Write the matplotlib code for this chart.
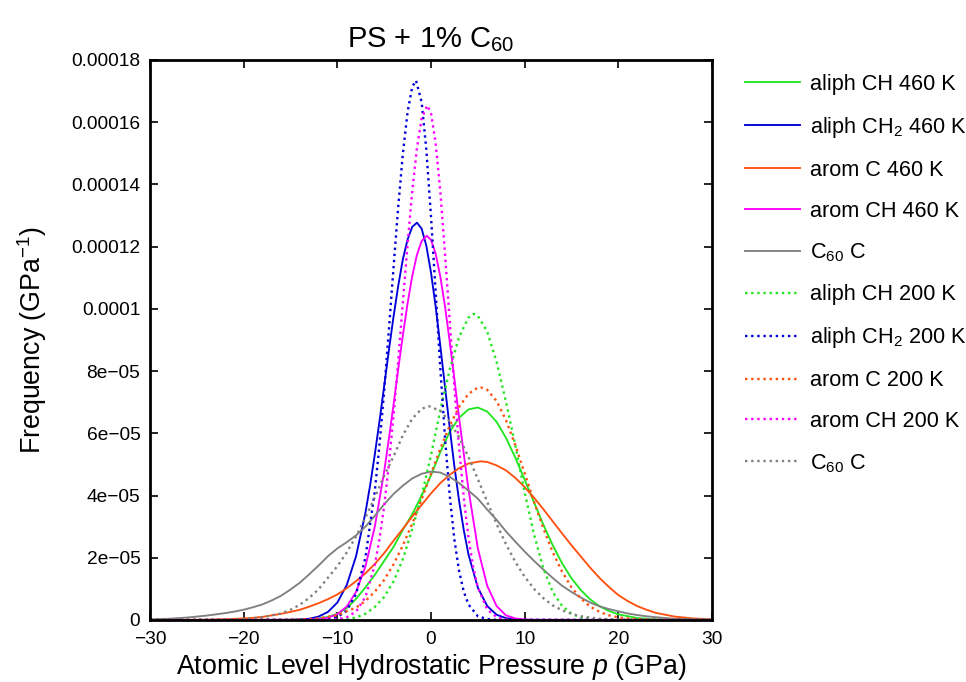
import matplotlib
matplotlib.use("Agg")
import matplotlib.pyplot as plt
import numpy as np

plt.rcParams['font.family'] = ['Liberation Sans', 'DejaVu Sans']
plt.rcParams['mathtext.fontset'] = 'custom'
plt.rcParams['mathtext.rm'] = 'Liberation Sans'
plt.rcParams['mathtext.it'] = 'Liberation Sans:italic'
plt.rcParams['axes.unicode_minus'] = True

UNIT = 1e-5  # values below are in units of 1e-5 GPa^-1

# ---- 460 K (solid) ----
x_aliphCH_460 = [-30, -16, -14, -12, -11, -10, -9, -8, -7, -6, -5, -4, -3, -2, -1, 0, 1, 2, 3, 4, 5, 6, 7, 8, 9,
                 10, 11, 12, 13, 14, 15, 16, 17, 18, 19, 20, 22, 24, 26, 30]
y_aliphCH_460 = [0, .005, .02, .05, .1, .2, .38, .68, 1.05, 1.45, 1.9, 2.35, 2.9, 3.4, 4.0, 4.65, 5.4, 6.05, 6.5,
                 6.77, 6.83, 6.7, 6.37, 5.86, 5.22, 4.51, 3.78, 3.06, 2.4, 1.82, 1.34, .96, .66, .44, .29, .18,
                 .065, .02, .005, 0]

x_aliphCH2_460 = [-30, -15, -14, -13, -12, -11, -10, -9, -8, -7, -6.5, -6, -5.5, -5, -4.5, -4, -3.5, -3, -2.5, -2,
                  -1.5, -1, -0.5, 0, 0.5, 1, 1.5, 2, 2.5, 3, 3.5, 4, 5, 6, 7, 8, 9, 10, 30]
y_aliphCH2_460 = [0, .005, .015, .04, .11, .26, .56, 1.12, 2.05, 3.45, 4.33, 5.32, 6.39, 7.52, 8.66, 9.75, 10.74,
                  11.6, 12.23, 12.64, 12.77, 12.58, 12.03, 11.17, 10.07, 8.8, 7.48, 6.17, 4.93, 3.83, 2.89, 2.11,
                  1.04, .45, .17, .06, .02, .005, 0]

x_aromC_460 = [-30, -26, -24, -22, -20, -19, -18, -17, -16, -15, -14, -13, -12, -11, -10, -9, -8, -7, -6, -5, -4,
               -3, -2, -1, 0, 1, 2, 3, 4, 5.3, 6, 7, 8, 9, 10, 11, 12, 13, 14, 15, 16, 17, 18, 19, 20, 21, 22, 23,
               24, 26, 28, 30]
y_aromC_460 = [0, .005, .01, .025, .05, .07, .1, .15, .2, .26, .33, .43, .54, .67, .82, 1.02, 1.25, 1.5, 1.8,
               2.15, 2.55, 2.93, 3.33, 3.7, 4.07, 4.4, 4.67, 4.88, 5.03, 5.1, 5.08, 4.97, 4.81, 4.57, 4.27, 3.93,
               3.56, 3.17, 2.78, 2.4, 2.04, 1.68, 1.35, 1.06, .8, .61, .45, .33, .23, .11, .05, .02]

x_aromCH_460 = [-30, -13, -12, -11, -10, -9, -8, -7, -6, -5, -4.5, -4, -3.5, -3, -2.5, -2, -1.5, -1, -0.45, 0,
                0.5, 1, 1.5, 2, 2.5, 3, 3.5, 4, 5, 6, 7, 8, 9, 10, 11, 30]
y_aromCH_460 = [0, .008, .027, .075, .187, .43, .9, 1.72, 3.0, 4.77, 5.82, 6.92, 8.06, 9.16, 10.18, 11.06, 11.74,
                12.18, 12.35, 12.22, 11.77, 11.03, 10.07, 8.94, 7.74, 6.5, 5.34, 4.2, 2.3, 1.1, .45, .15, .05,
                .015, .005, 0]

x_C60_460 = [-30, -29, -28, -27, -26, -25, -24, -23, -22, -21, -20, -19, -18, -17, -16, -15, -14, -13, -12, -11,
             -10, -9, -8, -7, -6, -5, -4, -3, -2, -1, 0, 1, 2, 3, 4, 5, 6, 7, 8, 9, 10, 11, 12, 13, 14, 15, 16,
             17, 18, 19, 20, 21, 22, 23, 24, 26, 28, 30]
y_C60_460 = [.02, .03, .04, .06, .08, .11, .14, .18, .22, .27, .33, .41, .5, .63, .78, .98, 1.2, 1.47, 1.75,
             2.05, 2.3, 2.5, 2.72, 3.0, 3.35, 3.72, 4.05, 4.32, 4.55, 4.7, 4.77, 4.74, 4.6, 4.4, 4.16, 3.9, 3.55,
             3.22, 2.85, 2.52, 2.2, 1.9, 1.62, 1.35, 1.1, .9, .72, .56, .44, .35, .28, .21, .16, .12, .09, .04,
             .02, .01]

# ---- 200 K (dotted) ----
x_aliphCH_200 = [-30, -10, -9, -8, -7, -6, -5, -4, -3, -2, -1, 0, 1, 2, 3, 4, 4.55, 5, 6, 7, 8, 9, 10, 11, 12, 13,
                 14, 15, 16, 17, 18, 30]
y_aliphCH_200 = [0, .01, .03, .08, .2, .42, .74, 1.24, 1.96, 2.92, 4.0, 5.3, 6.75, 8.05, 9.1, 9.72, 9.84, 9.78,
                 9.27, 8.3, 7.02, 5.61, 4.1, 2.75, 1.65, .9, .45, .2, .08, .03, .01, 0]

x_aliphCH2_200 = [-30, -12, -11, -10, -9, -8, -7, -6, -5.5, -5, -4.5, -4, -3.5, -3, -2.5, -2, -1.6, -1, -0.5, 0,
                  0.5, 1, 1.5, 2, 2.5, 3, 3.5, 4, 5, 6, 7, 30]
y_aliphCH2_200 = [0, .005, .025, .094, .30, .84, 2.01, 4.14, 5.63, 7.37, 9.31, 11.33, 13.28, 15.0, 16.33, 17.14,
                  17.34, 16.65, 15.12, 12.97, 10.52, 8.06, 5.83, 3.99, 2.58, 1.57, .91, .50, .12, .03, .005, 0]

x_aromC_200 = [-30, -16, -14, -12, -10, -8, -7, -6, -5, -4, -3, -2, -1, 0, 1, 2, 3, 4, 5, 5.3, 6, 7, 8, 9, 10, 11,
               12, 13, 14, 15, 16, 17, 18, 19, 20, 22, 24, 30]
y_aromC_200 = [0, .004, .016, .053, .156, .40, .61, .91, 1.29, 1.79, 2.40, 3.10, 3.88, 4.70, 5.51, 6.25, 6.85,
               7.27, 7.47, 7.48, 7.40, 7.04, 6.43, 5.62, 4.72, 3.80, 2.94, 2.18, 1.55, 1.05, .69, .43, .26, .15,
               .083, .022, .005, 0]

x_aromCH_200 = [-30, -11, -10, -9, -8, -7, -6, -5.5, -5, -4.5, -4, -3.5, -3, -2.5, -2, -1.5, -1, -0.4, 0, 0.5, 1,
                1.5, 2, 2.5, 3, 3.5, 4, 4.5, 5, 6, 7, 8, 9, 30]
y_aromCH_200 = [0, .005, .023, .085, .27, .74, 1.77, 2.6, 3.67, 5.0, 6.57, 8.34, 10.22, 12.08, 13.79, 15.17,
                16.12, 16.54, 16.29, 15.32, 13.75, 11.76, 9.6, 7.47, 5.55, 3.93, 2.65, 1.71, 1.05, .34, .093, .02,
                .005, 0]

x_C60_200 = [-30, -22, -20, -18, -16, -15, -14, -13, -12, -11, -10, -9, -8, -7, -6, -5, -4, -3, -2, -1, -0.2, 1,
             2, 3, 4, 5, 6, 7, 8, 9, 10, 11, 12, 13, 14, 15, 16, 18, 20, 30]
y_C60_200 = [0, .01, .03, .085, .21, .33, .49, .71, .99, 1.36, 1.73, 2.17, 2.69, 3.29, 3.94, 4.63, 5.26, 5.94,
             6.47, 6.79, 6.87, 6.72, 6.38, 5.87, 5.24, 4.53, 3.80, 3.09, 2.44, 1.87, 1.39, 1.0, .70, .47, .31, .20,
             .12, .04, .013, 0]

labels = [r'aliph CH 460 K', r'aliph CH$_2$ 460 K', r'arom C 460 K', r'arom CH 460 K', r'C$_{60}$ C',
          r'aliph CH 200 K', r'aliph CH$_2$ 200 K', r'arom C 200 K', r'arom CH 200 K', r'C$_{60}$ C']

x_ticks = [-30, -20, -10, 0, 10, 20, 30]
y_ticks = [0, 2e-5, 4e-5, 6e-5, 8e-5, 1e-4, 1.2e-4, 1.4e-4, 1.6e-4, 1.8e-4]
y_tick_labels = ['0', '2e\u221205', '4e\u221205', '6e\u221205', '8e\u221205', '0.0001', '0.00012', '0.00014',
                 '0.00016', '0.00018']

series = [
    (x_aliphCH_460, y_aliphCH_460), (x_aliphCH2_460, y_aliphCH2_460), (x_aromC_460, y_aromC_460),
    (x_aromCH_460, y_aromCH_460), (x_C60_460, y_C60_460),
    (x_aliphCH_200, y_aliphCH_200), (x_aliphCH2_200, y_aliphCH2_200), (x_aromC_200, y_aromC_200),
    (x_aromCH_200, y_aromCH_200), (x_C60_200, y_C60_200),
]
colors = ['#22e622', '#0000d8', '#ff5010', '#ff00ff', '#808080'] * 2
solid = [True] * 5 + [False] * 5

fig = plt.figure(figsize=(9.66, 6.82), dpi=100)
ax = fig.add_axes([150 / 966, 1 - 620 / 682, (712 - 150) / 966, (620 - 60) / 682])

for (xs, ys), c, s, lab in zip(series, colors, solid, labels):
    yv = np.array(ys) * UNIT
    if s:
        ax.plot(xs, yv, color=c, lw=1.35, label=lab, solid_joinstyle='round')
    else:
        ax.plot(xs, yv, color=c, lw=1.7, linestyle=(0, (1.0, 1.6)), label=lab)

ax.set_xlim(-30, 30)
ax.set_ylim(0, 1.8e-4)
ax.set_xticks(x_ticks)
ax.set_xticklabels([str(t).replace('-', '\u2212') for t in x_ticks])
ax.set_yticks(y_ticks)
ax.set_yticklabels(y_tick_labels)
ax.tick_params(direction='in', length=6, width=1.2, top=True, right=True, labelsize=13.8, pad=7)
ax.tick_params(axis='x', pad=8)
for sp in ax.spines.values():
    sp.set_linewidth(2.0)

ax.set_title(r'PS + 1% C$_{60}$', fontsize=21, pad=9)
ax.set_xlabel(r'Atomic Level Hydrostatic Pressure $p$ (GPa)', fontsize=19.3, labelpad=3)
ax.set_ylabel(r'Frequency (GPa$^{-1}$)', fontsize=19.3, labelpad=16)

leg = ax.legend(loc='upper left', bbox_to_anchor=(745 / 966, 1 - 74 / 682), bbox_transform=fig.transFigure,
                frameon=False, fontsize=15.6, handlelength=2.55, handletextpad=0.45, labelspacing=0.92,
                borderaxespad=0, borderpad=0)

fig.savefig('out.png', dpi=100)
